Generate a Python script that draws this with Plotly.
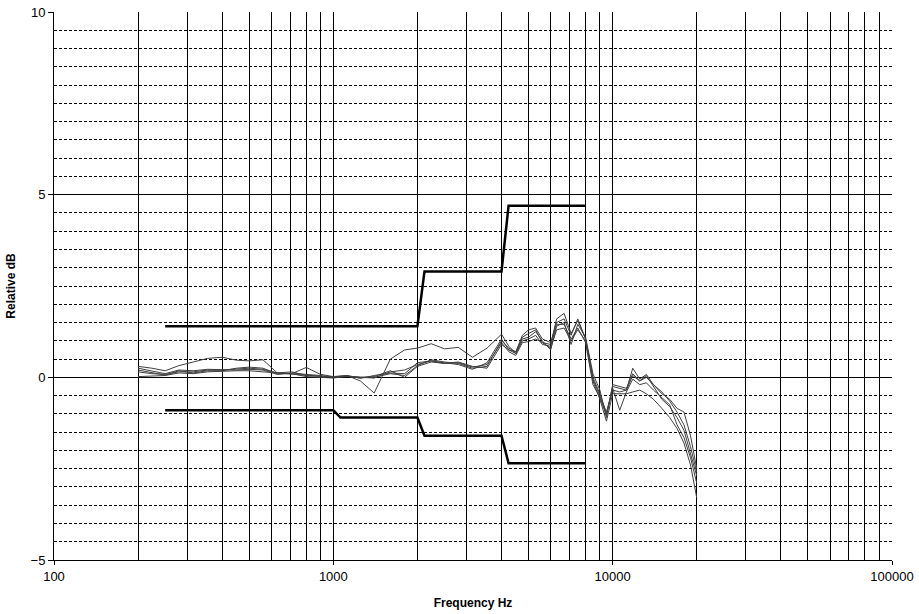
import plotly.graph_objects as go

# Frequency grid of the measured curves (Hz)
freq = [200, 224, 250, 280, 315, 355, 400, 450, 500, 560, 630, 710, 800, 900,
        1000, 1120, 1250, 1400, 1600, 1800, 2000, 2240, 2500, 2800, 3150, 3550,
        4000, 4250, 4500, 4750, 5000, 5300, 5600, 6000, 6300, 6700, 7100, 7500,
        8000, 8500, 9000, 9500, 10000, 10600, 11200, 11800, 12500, 13200, 14000,
        15000, 16000, 17000, 18000, 19000, 20000]

curve1 = [0.30, 0.25, 0.18, 0.32, 0.42, 0.52, 0.55, 0.47, 0.45, 0.48, 0.12, 0.10, 0.27, 0.08,
          0.02, 0.05, -0.10, -0.43, 0.50, 0.75, 0.80, 0.92, 0.78, 0.82, 0.55, 0.80,
          1.18, 0.85, 0.65, 1.10, 1.20, 1.30, 0.95, 0.90, 1.60, 1.75, 1.20, 1.55,
          1.05, 0.00, -0.45, -1.00, -0.25, -0.30, -0.35, 0.25, -0.05, 0.08, -0.20,
          -0.45, -0.60, -0.85, -0.95, -1.60, -2.50]
curve2 = [0.02, 0.03, 0.05, 0.12, 0.10, 0.15, 0.17, 0.18, 0.18, 0.15, 0.12, 0.08, 0.05, 0.02,
          0.00, 0.02, 0.00, -0.02, 0.15, 0.20, 0.35, 0.45, 0.38, 0.40, 0.28, 0.35,
          0.95, 0.70, 0.60, 0.95, 0.98, 1.05, 0.95, 0.80, 1.30, 1.35, 1.00, 1.30,
          1.00, -0.10, -0.60, -1.20, -0.45, -0.45, -0.45, -0.40, -0.35, -0.45, -0.60,
          -0.85, -1.10, -1.40, -1.80, -2.40, -3.30]
curve3 = [0.15, 0.10, 0.08, 0.15, 0.15, 0.20, 0.20, 0.22, 0.25, 0.22, 0.12, 0.15, 0.05, 0.03,
          0.02, 0.04, 0.00, 0.02, 0.18, 0.00, 0.30, 0.42, 0.38, 0.42, 0.30, 0.25,
          0.90, 0.75, 0.70, 1.05, 1.10, 1.25, 1.00, 0.75, 1.40, 1.50, 0.90, 1.45,
          1.10, 0.10, -0.35, -1.10, -0.20, -0.25, -0.30, 0.10, -0.10, 0.05, -0.25,
          -0.60, -0.80, -1.10, -1.45, -2.10, -2.70]
curve4 = [0.25, 0.18, 0.10, 0.20, 0.18, 0.22, 0.20, 0.20, 0.22, 0.20, 0.08, 0.12, 0.08, 0.05,
          0.00, 0.05, -0.03, 0.05, 0.12, 0.10, 0.40, 0.45, 0.40, 0.35, 0.22, 0.40,
          1.05, 0.75, 0.65, 1.00, 1.05, 1.15, 0.90, 0.85, 1.45, 1.45, 1.05, 1.35,
          0.95, -0.20, -0.55, -1.05, -0.30, -0.90, -0.40, -0.05, -0.20, -0.15, -0.35,
          -0.55, -0.75, -1.30, -1.65, -2.20, -2.90]
curve5 = [0.20, 0.12, 0.06, 0.18, 0.12, 0.18, 0.18, 0.25, 0.28, 0.25, 0.10, 0.10, 0.02, 0.00,
          -0.02, 0.03, 0.00, 0.00, 0.10, 0.05, 0.32, 0.48, 0.42, 0.38, 0.25, 0.30,
          1.00, 0.80, 0.70, 1.15, 1.30, 1.35, 1.05, 0.95, 1.50, 1.60, 1.15, 1.60,
          1.05, -0.05, -0.50, -0.95, -0.35, -0.40, -0.35, 0.05, -0.10, 0.00, -0.20,
          -0.40, -0.65, -0.95, -1.30, -1.90, -2.60]

# Tolerance limits
upper_freq = [250, 2000, 2120, 4000, 4240, 8000]
upper_db = [1.4, 1.4, 2.9, 2.9, 4.7, 4.7]
lower_freq = [250, 1000, 1060, 2000, 2120, 4000, 4240, 8000]
lower_db = [-0.9, -0.9, -1.1, -1.1, -1.6, -1.6, -2.35, -2.35]

# Axis ticks
x_major = [100, 1000, 10000, 100000]
x_major_text = ["100", "1000", "10000", "100000"]
x_minor = [m * d for d in (100, 1000, 10000) for m in range(2, 10)]
y_major = [-5, 0, 5, 10]
y_minor = [v / 2 for v in range(-10, 21) if v % 10 != 0]

fig = go.Figure()
for c in (curve1, curve2, curve3, curve4, curve5):
    fig.add_trace(go.Scatter(x=freq, y=c, mode="lines",
                             line=dict(color="#404040", width=1), showlegend=False))
fig.add_trace(go.Scatter(x=upper_freq, y=upper_db, mode="lines",
                         line=dict(color="black", width=2.5), showlegend=False))
fig.add_trace(go.Scatter(x=lower_freq, y=lower_db, mode="lines",
                         line=dict(color="black", width=2.5), showlegend=False))

font = "Liberation Sans, Arial, sans-serif"
fig.update_layout(
    width=919, height=614,
    margin=dict(l=54, r=27, t=12, b=54),
    paper_bgcolor="white", plot_bgcolor="white",
    font=dict(family=font, size=13, color="black"),
    xaxis=dict(
        type="log", range=[2, 5], automargin=False,
        tickmode="array", tickvals=x_major, ticktext=x_major_text,
        ticks="outside", ticklen=4, tickcolor="black",
        showline=True, linecolor="black", linewidth=1,
        showgrid=True, gridcolor="black", gridwidth=1,
        zeroline=False,
        minor=dict(tickmode="array", tickvals=x_minor, showgrid=True,
                   gridcolor="black", gridwidth=1, ticks=""),
        title=dict(text="<b>Frequency Hz</b>", font=dict(size=12), standoff=16),
    ),
    yaxis=dict(
        range=[-5, 10], automargin=False,
        tickmode="array", tickvals=y_major,
        ticks="outside", ticklen=5, tickcolor="black",
        showline=True, linecolor="black", linewidth=1,
        showgrid=True, gridcolor="black", gridwidth=1,
        zeroline=False,
        minor=dict(tickmode="array", tickvals=y_minor, showgrid=True,
                   gridcolor="black", gridwidth=1, griddash="3px,2px", ticks=""),
        title=dict(text="<b>Relative dB</b>", font=dict(size=12), standoff=12),
    ),
)

fig.write_html("out.html",
               config={"displayModeBar": False},
               post_script="document.body.style.margin='0';document.body.style.padding='0';")
